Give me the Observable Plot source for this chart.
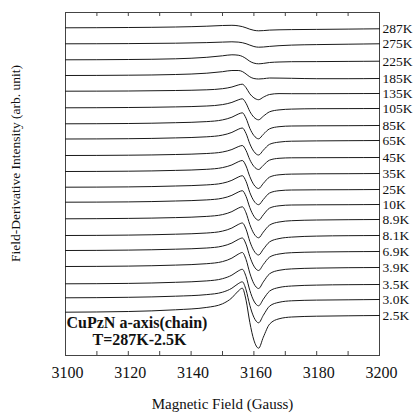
<!DOCTYPE html>
<html>
<head>
<meta charset="utf-8">
<script src="https://cdn.jsdelivr.net/npm/d3@7"></script>
<script src="https://cdn.jsdelivr.net/npm/@observablehq/plot@0.6"></script>
<style>
  html, body { margin: 0; padding: 0; background: white; }
</style>
</head>
<body>
<div id="chart"></div>
<script>
// Magnetic field grid (Gauss) at which each spectrum was read
const fields = [3100, 3120, 3135, 3145, 3150, 3153, 3155, 3156.3, 3157.5, 3158.7, 3160, 3161.5, 3163, 3165, 3168, 3172, 3180, 3190, 3200];

// Temperatures (top to bottom)
const temps = ["287K", "275K", "225K", "185K", "135K", "105K", "85K", "65K", "45K", "35K", "25K", "10K", "8.9K", "8.1K", "6.9K", "3.9K", "3.5K", "3.0K", "2.5K"];

// Vertical stacking offsets of each spectrum (arb. unit)
const offsets = [327.7, 311.7, 295.7, 280, 264.3, 247.7, 231.7, 216.5, 200, 184, 168.3, 153.3, 136.7, 120, 105, 89, 71.7, 57.7, 43.3];

// Field-derivative intensity of each spectrum (arb. unit), relative to its offset
const s287 = [0, 0.3, 0.8, 1.6, 2.3, 2.5, 2, 1.2, 0, -1.4, -2.5, -3, -2.8, -2.3, -2, -1.8, -1.6, -1.3, -1];
const s275 = [0, 0.2, 0.6, 1.2, 1.7, 2, 1.7, 1.1, 0.1, -1.3, -2.7, -3.4, -3.2, -2.6, -1.9, -1.3, -0.8, -0.4, 0];
const s225 = [0, 0.3, 1, 2.5, 4, 5, 4.6, 3.4, 1.2, -1.5, -3.3, -4, -3.6, -2.7, -2.2, -1.9, -1.8, -1.6, -1.4];
const s185 = [0, 0.3, 1, 2.3, 3.8, 5, 5, 4, 1.5, -1.3, -3, -3.5, -3.2, -2.5, -2.6, -2.8, -3.2, -3.2, -3];
const s135 = [0, 0.2, 0.7, 1.4, 2.5, 4.2, 6.2, 7, 3.5, -2.6, -6.6, -8.5, -6, -3.3, -2.4, -2.5, -2.5, -2.4, -2.3];
const s105 = [0, 0.3, 0.9, 1.8, 3.2, 5.4, 7.9, 9, 4.5, -3.6, -9.4, -12, -8.4, -4, -2.1, -1.3, -0.9, -0.8, -0.7];
const s85  = [0, 0.3, 1.1, 2.2, 3.9, 6.6, 9.7, 11, 5.5, -4.5, -11.7, -15, -10.5, -5, -2.9, -2.2, -2, -1.9, -1.7];
const s65  = [0, 0.3, 1.1, 2.2, 3.9, 6.6, 9.7, 11, 5.5, -4.8, -12.5, -16, -11.2, -5.3, -3.1, -2.2, -1.9, -1.7, -1.5];
const s45  = [0, 0.3, 1, 2, 3.5, 6, 8.8, 10, 5, -4.2, -10.9, -14, -9.8, -4.6, -2.8, -2.3, -2.2, -2.1, -2];
const s35  = [0, 0.3, 1.1, 2.2, 3.9, 6.6, 9.7, 11, 5.5, -5.1, -13.3, -17, -11.9, -5.6, -3.3, -2.6, -2.3, -2.2, -2];
const s25  = [0, 0.3, 1.2, 2.3, 4, 6.9, 10.1, 11.5, 5.8, -5.3, -13.7, -17.5, -12.3, -5.8, -3.5, -2.8, -2.6, -2.5, -2.3];
const s10  = [0, 0.3, 1.2, 2.3, 4, 6.9, 10.1, 11.5, 5.8, -5.4, -14, -18, -12.6, -5.9, -3.6, -2.8, -2.6, -2.5, -2.3];
const s8_9 = [0, 0.4, 1.2, 2.4, 4.2, 7.2, 10.6, 12, 6, -5.7, -14.8, -19, -13.3, -6.3, -3.2, -1.9, -1.2, -0.9, -0.7];
const s8_1 = [0, 0.4, 1.3, 2.5, 4.4, 7.5, 11, 12.5, 6.3, -5.9, -15.2, -19.5, -13.7, -6.4, -3.1, -1.6, -0.6, -0.2, 0];
const s6_9 = [0, 0.4, 1.3, 2.5, 4.4, 7.5, 11, 12.5, 6.3, -6, -15.6, -20, -14, -6.6, -3.5, -2.2, -1.5, -1.2, -1];
const s3_9 = [0, 0.4, 1.4, 2.8, 4.9, 8.4, 12.3, 14, 7, -6.6, -17.2, -22, -15.4, -7.3, -3.8, -2.4, -1.6, -1.2, -1];
const s3_5 = [0, 0.4, 1.5, 2.9, 5.1, 8.7, 12.8, 14.5, 7.3, -6.6, -17.2, -22, -15.4, -7.3, -3.7, -2.2, -1.3, -0.9, -0.7];
const s3_0 = [0, 0.5, 1.6, 3.2, 5.6, 9.6, 14.1, 16, 8, -7.5, -19.5, -25, -17.5, -8.3, -4.5, -3, -2.3, -2, -1.7];
const s2_5 = [0, 0.7, 2.4, 4.8, 8.4, 14.4, 21.1, 24, 12, -10.2, -28, -36, -25, -11.9, -6.6, -4.8, -4, -3.6, -3.3];

const spectra = [s287, s275, s225, s185, s135, s105, s85, s65, s45, s35, s25, s10, s8_9, s8_1, s6_9, s3_9, s3_5, s3_0, s2_5];

// Axis ticks
const majorTicks = [3100, 3120, 3140, 3160, 3180, 3200];
const minorTicks = [3110, 3120, 3130, 3140, 3150, 3160, 3170, 3180, 3190];

const xLabel = "Magnetic Field (Gauss)";
const yLabel = "Field-Derivative Intensity (arb. unit)";
const note1 = "CuPzN a-axis(chain)";
const note2 = "T=287K-2.5K";

// Build rows
const rows = [];
temps.forEach((t, i) => {
  fields.forEach((f, j) => rows.push({temp: t, field: f, v: offsets[i] + spectra[i][j]}));
});
const labels = temps.map((t, i) => ({temp: t, field: fields[fields.length - 1], v: offsets[i] + spectra[i][spectra[i].length - 1]}));

const W = 417, H = 417, mT = 12, mB = 62, mL = 65, mR = 38;
const innerH = H - mT - mB;

const chart = Plot.plot({
  width: W,
  height: H,
  marginTop: mT,
  marginBottom: mB,
  marginLeft: mL,
  marginRight: mR,
  style: {fontFamily: "'Liberation Serif', 'Times New Roman', serif", fontSize: "16px", background: "white", color: "#111"},
  x: {domain: [3100, 3200]},
  y: {domain: [0, innerH], axis: null},
  marks: [
    Plot.frame({stroke: "#444", strokeWidth: 1}),
    Plot.tickX(minorTicks, {x: d => d, insetTop: innerH - 4, stroke: "#444"}),
    Plot.tickX(minorTicks, {x: d => d, insetBottom: innerH - 4, stroke: "#444"}),
    Plot.axisX({ticks: majorTicks, tickSize: 0, tickPadding: 11, dx: 2, fontSize: 16, tickFormat: d => `${d}`, label: null}),
    Plot.line(rows, {x: "field", y: "v", z: "temp", curve: "monotone-x", stroke: "#1a1a1a", strokeWidth: 1}),
    Plot.text(labels, {x: "field", y: "v", text: "temp", dx: 3, textAnchor: "start", fontSize: 13.5, fill: "#111"}),
    Plot.text([note1], {frameAnchor: "bottom-left", textAnchor: "start", dx: 1, dy: -28, fontSize: 16, fontWeight: "bold", fill: "#111"}),
    Plot.text([note2], {frameAnchor: "bottom-left", textAnchor: "middle", dx: 74, dy: -11, fontSize: 16, fontWeight: "bold", fill: "#111"}),
    Plot.text([xLabel], {frameAnchor: "bottom", dy: 53, fontSize: 15, fill: "#111"}),
    Plot.text([yLabel], {frameAnchor: "left", textAnchor: "middle", rotate: -90, dx: -49.5, dy: -20.5, fontSize: 13.5, fill: "#111"})
  ]
});
document.getElementById("chart").appendChild(chart);
</script>
</body>
</html>
